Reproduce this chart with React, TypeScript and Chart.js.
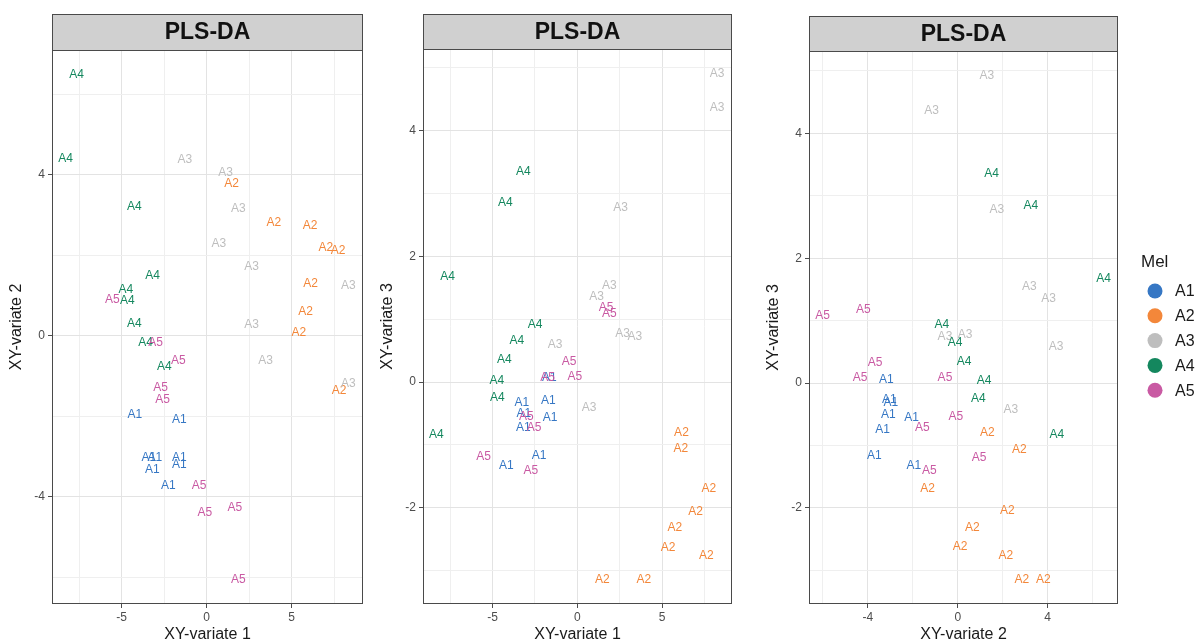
import React, { useEffect, useRef } from 'react';
import { Chart, registerables } from 'chart.js';

Chart.register(...registerables);

// ---------- categories & colours ----------
const groups = ['A1', 'A2', 'A3', 'A4', 'A5'];
const groupColors = ['#3677C4', '#F3873A', '#BEBEBE', '#14875E', '#C95AA3'];
const legendTitle = 'Mel';
const panelTitle = 'PLS-DA';

// ---------- Panel 1: XY-variate 1 (x) vs XY-variate 2 (y) ----------
const p1A1 = [[-4.22, -1.96], [-1.61, -2.07], [-3.4, -3.02], [-3.05, -3.02], [-1.61, -3.02], [-1.61, -3.2], [-3.2, -3.33], [-2.26, -3.72]];
const p1A2 = [[1.47, 3.79], [3.96, 2.82], [6.08, 2.74], [7.02, 2.2], [7.74, 2.12], [6.12, 1.29], [5.82, 0.6], [5.43, 0.08], [7.8, -1.36]];
const p1A3 = [[-1.28, 4.37], [1.12, 4.06], [1.86, 3.16], [0.72, 2.3], [2.65, 1.72], [8.33, 1.24], [2.65, 0.27], [3.47, -0.61], [8.33, -1.2]];
const p1A4 = [[-7.65, 6.48], [-8.3, 4.39], [-4.26, 3.21], [-3.18, 1.49], [-4.75, 1.14], [-4.67, 0.88], [-4.26, 0.3], [-3.59, -0.16], [-2.49, -0.76]];
const p1A5 = [[-5.55, 0.89], [-3.0, -0.16], [-1.67, -0.61], [-2.71, -1.28], [-2.59, -1.59], [-0.45, -3.72], [1.66, -4.26], [-0.1, -4.38], [1.86, -6.06]];

// ---------- Panel 2: XY-variate 1 (x) vs XY-variate 3 (y) ----------
const p2A1 = [[-3.27, -0.32], [-1.71, -0.3], [-3.15, -0.5], [-1.61, -0.56], [-3.18, -0.73], [-2.25, -1.17], [-4.19, -1.33], [-1.65, 0.07]];
const p2A2 = [[6.14, -0.8], [6.1, -1.06], [7.76, -1.69], [6.98, -2.06], [5.75, -2.32], [5.35, -2.63], [7.61, -2.76], [1.47, -3.15], [3.92, -3.15]];
const p2A3 = [[8.24, 4.91], [8.24, 4.37], [2.55, 2.77], [1.88, 1.53], [1.14, 1.36], [-1.31, 0.59], [2.67, 0.77], [3.39, 0.73], [0.69, -0.41]];
const p2A4 = [[-3.18, 3.35], [-4.25, 2.85], [-7.65, 1.67], [-2.49, 0.91], [-3.57, 0.66], [-4.31, 0.36], [-4.74, 0.03], [-4.71, -0.25], [-8.31, -0.83]];
const p2A5 = [[1.69, 1.18], [1.88, 1.09], [-0.49, 0.32], [-0.14, 0.09], [-1.75, 0.07], [-3.0, -0.55], [-2.55, -0.72], [-5.53, -1.19], [-2.74, -1.41]];

// ---------- Panel 3: XY-variate 2 (x) vs XY-variate 3 (y) ----------
const p3A1 = [[-3.18, 0.06], [-3.05, -0.27], [-2.98, -0.31], [-3.09, -0.5], [-2.05, -0.56], [-3.35, -0.74], [-3.71, -1.17], [-1.95, -1.32]];
const p3A2 = [[1.32, -0.79], [2.74, -1.07], [-1.34, -1.7], [2.21, -2.05], [0.65, -2.32], [0.1, -2.62], [2.14, -2.76], [2.85, -3.15], [3.81, -3.15]];
const p3A3 = [[1.29, 4.92], [-1.16, 4.37], [1.74, 2.78], [3.19, 1.54], [4.04, 1.35], [-0.57, 0.74], [0.33, 0.77], [4.38, 0.58], [2.36, -0.42]];
const p3A4 = [[1.51, 3.36], [3.25, 2.84], [6.49, 1.68], [-0.71, 0.93], [-0.12, 0.65], [0.28, 0.35], [1.17, 0.03], [0.92, -0.25], [4.41, -0.83]];
const p3A5 = [[-6.01, 1.08], [-4.2, 1.17], [-3.68, 0.32], [-4.35, 0.09], [-0.57, 0.08], [-0.09, -0.54], [-1.58, -0.72], [0.95, -1.19], [-1.26, -1.41]];

// ---------- ticks (grid positions) and labelled ticks ----------
const p1XTicks = [-7.5, -5, -2.5, 0, 2.5, 5, 7.5];
const p1XLabels = [-5, 0, 5];
const p1YTicks = [-6, -4, -2, 0, 2, 4, 6];
const p1YLabels = [-4, 0, 4];
const p2XTicks = [-7.5, -5, -2.5, 0, 2.5, 5, 7.5];
const p2XLabels = [-5, 0, 5];
const p2YTicks = [-3, -2, -1, 0, 1, 2, 3, 4, 5];
const p2YLabels = [-2, 0, 2, 4];
const p3XTicks = [-6, -4, -2, 0, 2, 4, 6];
const p3XLabels = [-4, 0, 4];
const p3YTicks = [-3, -2, -1, 0, 1, 2, 3, 4, 5];
const p3YLabels = [-2, 0, 2, 4];

const axisTitles = { v1: 'XY-variate 1', v2: 'XY-variate 2', v3: 'XY-variate 3' };

const FONT = '"Liberation Sans", Arial, Helvetica, sans-serif';

const panelPlugin = {
  id: 'panelDeco',
  afterDatasetsDraw(chart: any) {
    const ctx = chart.ctx;
    ctx.save();
    ctx.font = `12px ${FONT}`;
    ctx.textAlign = 'center';
    ctx.textBaseline = 'middle';
    chart.data.datasets.forEach((ds: any, i: number) => {
      const meta = chart.getDatasetMeta(i);
      ctx.fillStyle = ds.borderColor;
      meta.data.forEach((el: any) => {
        ctx.fillText(ds.label, el.x, el.y);
      });
    });
    ctx.restore();
  },
  afterDraw(chart: any, _args: any, opts: any) {
    const ctx = chart.ctx;
    const { left, right, top, bottom } = chart.chartArea;
    ctx.save();
    // panel border
    ctx.strokeStyle = '#4a4a4a';
    ctx.lineWidth = 1;
    ctx.strokeRect(left + 0.5, top + 0.5, right - left - 1, bottom - top - 1);
    // strip
    const st = opts.stripTop;
    ctx.fillStyle = '#D0D0D0';
    ctx.fillRect(left, st, right - left, top - st);
    ctx.strokeRect(left + 0.5, st + 0.5, right - left - 1, top - st);
    ctx.fillStyle = '#111';
    ctx.font = `bold 23px ${FONT}`;
    ctx.textAlign = 'center';
    ctx.textBaseline = 'middle';
    ctx.fillText(opts.title, (left + right) / 2, (st + top) / 2 + 1);
    // axis titles
    ctx.font = `16px ${FONT}`;
    ctx.fillStyle = '#1a1a1a';
    ctx.fillText(opts.xTitle, (left + right) / 2, bottom + 31);
    ctx.save();
    ctx.translate(left - 35, (top + bottom) / 2);
    ctx.rotate(-Math.PI / 2);
    ctx.fillText(opts.yTitle, 0, 0);
    ctx.restore();
    // legend
    if (opts.legend) {
      const lx = opts.legend.x;
      ctx.textAlign = 'left';
      ctx.fillStyle = '#1a1a1a';
      ctx.font = `17px ${FONT}`;
      ctx.fillText(legendTitle, lx - 14, opts.legend.y);
      ctx.font = `16px ${FONT}`;
      groups.forEach((g, i) => {
        const cy = opts.legend.y + 29 + i * 24.8;
        ctx.beginPath();
        ctx.arc(lx, cy, 7.5, 0, Math.PI * 2);
        ctx.fillStyle = groupColors[i];
        ctx.fill();
        ctx.fillStyle = '#1a1a1a';
        ctx.fillText(g, lx + 20, cy + 1);
      });
    }
    ctx.restore();
  },
};

const isIn = (arr: number[], v: number) => arr.some((a) => Math.abs(a - v) < 1e-9);

function makeScale(min: number, max: number, ticks: number[], labels: number[], horizontal: boolean) {
  return {
    type: 'linear',
    min,
    max,
    afterBuildTicks: (s: any) => {
      s.ticks = ticks.map((v) => ({ value: v }));
    },
    afterFit: (s: any) => {
      if (horizontal) s.height = 40;
    },
    border: { display: false },
    grid: {
      color: (c: any) => (c.tick && isIn(labels, c.tick.value) ? '#E3E3E3' : '#EFEFEF'),
      lineWidth: 1,
      drawTicks: true,
      tickLength: 4,
      tickColor: (c: any) => (c.tick && isIn(labels, c.tick.value) ? '#4d4d4d' : 'rgba(0,0,0,0)'),
    },
    ticks: {
      autoSkip: false,
      maxRotation: 0,
      minRotation: 0,
      padding: horizontal ? 2 : 3,
      color: '#4D4D4D',
      font: { size: 12, family: FONT },
      callback: (v: number) => (isIn(labels, v) ? String(v) : ''),
    },
  };
}

type PanelSpec = {
  left: number;
  width: number;
  yAxisWidth: number;
  padRight: number;
  padTop: number;
  stripTop: number;
  series: number[][][];
  xRange: [number, number];
  yRange: [number, number];
  xTicks: number[];
  xLabels: number[];
  yTicks: number[];
  yLabels: number[];
  xTitle: string;
  yTitle: string;
  legend?: { x: number; y: number };
};

function Panel({ spec }: { spec: PanelSpec }) {
  const ref = useRef<HTMLCanvasElement>(null);
  useEffect(() => {
    if (!ref.current) return;
    const yScale: any = makeScale(spec.yRange[0], spec.yRange[1], spec.yTicks, spec.yLabels, false);
    yScale.afterFit = (s: any) => {
      s.width = spec.yAxisWidth;
    };
    const chart = new Chart(ref.current, {
      type: 'scatter',
      data: {
        datasets: spec.series.map((pts, i) => ({
          label: groups[i],
          data: pts.map(([x, y]) => ({ x, y })),
          pointRadius: 0,
          pointHoverRadius: 0,
          borderColor: groupColors[i],
          backgroundColor: groupColors[i],
          showLine: false,
        })),
      },
      options: {
        responsive: false,
        animation: false,
        events: [],
        layout: { padding: { top: spec.padTop, right: spec.padRight, left: 0, bottom: 0 } },
        scales: {
          x: makeScale(spec.xRange[0], spec.xRange[1], spec.xTicks, spec.xLabels, true) as any,
          y: yScale,
        },
        plugins: {
          legend: { display: false },
          tooltip: { enabled: false },
          panelDeco: {
            title: panelTitle,
            xTitle: spec.xTitle,
            yTitle: spec.yTitle,
            stripTop: spec.stripTop,
            legend: spec.legend,
          },
        } as any,
      },
      plugins: [panelPlugin],
    });
    return () => chart.destroy();
  }, []);
  return (
    <canvas
      ref={ref}
      width={spec.width}
      height={644}
      style={{ position: 'absolute', left: spec.left, top: 0, width: spec.width, height: 644 }}
    />
  );
}

const panels: PanelSpec[] = [
  {
    left: 0, width: 366, yAxisWidth: 52, padRight: 3, padTop: 50, stripTop: 14,
    series: [p1A1, p1A2, p1A3, p1A4, p1A5],
    xRange: [-9.1, 9.2], yRange: [-6.66, 7.1],
    xTicks: p1XTicks, xLabels: p1XLabels, yTicks: p1YTicks, yLabels: p1YLabels,
    xTitle: axisTitles.v1, yTitle: axisTitles.v2,
  },
  {
    left: 370, width: 366, yAxisWidth: 53, padRight: 4, padTop: 49, stripTop: 14,
    series: [p2A1, p2A2, p2A3, p2A4, p2A5],
    xRange: [-9.1, 9.12], yRange: [-3.53, 5.3],
    xTicks: p2XTicks, xLabels: p2XLabels, yTicks: p2YTicks, yLabels: p2YLabels,
    xTitle: axisTitles.v1, yTitle: axisTitles.v3,
  },
  {
    left: 755, width: 441, yAxisWidth: 54, padRight: 78, padTop: 51, stripTop: 16,
    series: [p3A1, p3A2, p3A3, p3A4, p3A5],
    xRange: [-6.62, 7.13], yRange: [-3.54, 5.32],
    xTicks: p3XTicks, xLabels: p3XLabels, yTicks: p3YTicks, yLabels: p3YLabels,
    xTitle: axisTitles.v2, yTitle: axisTitles.v3,
    legend: { x: 400, y: 262 },
  },
];

export default function App() {
  return (
    <div style={{ position: 'absolute', left: 0, top: 0, width: 1196, height: 644, background: '#fff', overflow: 'hidden' }}>
      {panels.map((p, i) => (
        <Panel key={i} spec={p} />
      ))}
    </div>
  );
}
